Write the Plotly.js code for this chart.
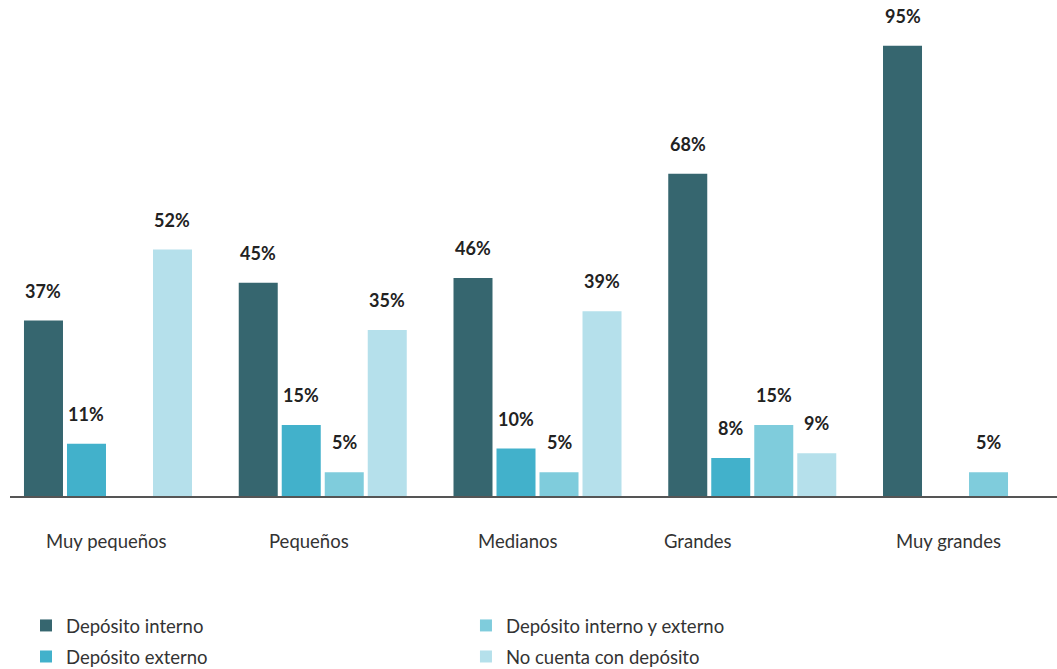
<!DOCTYPE html>
<html>
<head>
<meta charset="utf-8">
<script src="https://cdn.plot.ly/plotly-3.0.1.min.js"></script>
<style>
  html, body { margin: 0; padding: 0; background: #ffffff; }
  #chart { width: 1057px; height: 669px; }
</style>
</head>
<body>
<div id="chart"></div>
<script>
// ---- Data ----
const categories = ["Muy pequeños", "Pequeños", "Medianos", "Grandes", "Muy grandes"];
const seriesNames = ["Depósito interno", "Depósito externo", "Depósito interno y externo", "No cuenta con depósito"];
const depositoInterno = [37, 45, 46, 68, 95];
const depositoExterno = [11, 15, 10, 8, null];
const depositoInternoExterno = [null, 5, 5, 15, 5];
const noCuenta = [52, 35, 39, 9, null];

// ---- Styles ----
const colors = ["#36666f", "#42b1cb", "#7fccdc", "#b5e0eb"];
const barOffsetsPx = [-64.5, -21.5, 21.5, 64.5];      // centre of each bar within its group
const catLabelShiftPx = [-1, -13.5, -20, -54, -18.5]; // horizontal placement of category labels
const legendOf = ["legend", "legend", "legend2", "legend2"];
const FONT = "Lato, 'Open Sans', sans-serif";

const allSeries = [depositoInterno, depositoExterno, depositoInternoExterno, noCuenta];

const traces = allSeries.map((vals, i) => ({
  type: "bar",
  name: seriesNames[i],
  x: categories,
  y: vals,
  marker: { color: colors[i], line: { width: 0 } },
  legend: legendOf[i],
  legendgroup: "g" + i,
  hoverinfo: "x+y+name"
}));

const annotations = [];
allSeries.forEach((vals, i) => {
  vals.forEach((v, j) => {
    if (v === null || v === undefined) return;
    annotations.push({
      x: categories[j], y: v, xref: "x", yref: "y",
      text: v + "%", showarrow: false,
      xshift: barOffsetsPx[i], yshift: 30,
      xanchor: "center", yanchor: "middle",
      font: { family: FONT, size: 18, color: "#222222", weight: "bold" }
    });
  });
});
categories.forEach((c, j) => {
  annotations.push({
    x: c, y: 0, xref: "x", yref: "paper",
    text: c, showarrow: false,
    xshift: catLabelShiftPx[j], yshift: -45,
    xanchor: "center", yanchor: "middle",
    font: { family: FONT, size: 18.5, color: "#333333" }
  });
});

const layout = {
  width: 1057, height: 669,
  margin: { l: 10, r: 0, t: 22, b: 173, pad: 0, autoexpand: false },
  paper_bgcolor: "#ffffff", plot_bgcolor: "#ffffff",
  font: { family: FONT, size: 18, color: "#333333" },
  barmode: "group",
  bargap: 0.199,
  bargroupgap: 0.093,
  showlegend: true,
  xaxis: {
    type: "category",
    range: [-0.4563, 4.419],
    showticklabels: false,
    ticks: "",
    showgrid: false,
    zeroline: false,
    showline: true,
    linecolor: "#555555",
    linewidth: 1.5,
    layer: "below traces",
    automargin: false,
    fixedrange: true
  },
  yaxis: {
    range: [0, 100],
    visible: false,
    showgrid: false,
    zeroline: false,
    automargin: false,
    fixedrange: true
  },
  legend: {
    x: 0.0153, y: -0.234, xanchor: "left", yanchor: "top",
    orientation: "v", tracegroupgap: 4,
    font: { family: FONT, size: 18.5, color: "#333333" },
    bgcolor: "rgba(0,0,0,0)", itemclick: false, itemdoubleclick: false
  },
  legend2: {
    x: 0.4355, y: -0.234, xanchor: "left", yanchor: "top",
    orientation: "v", tracegroupgap: 4,
    font: { family: FONT, size: 18.5, color: "#333333" },
    bgcolor: "rgba(0,0,0,0)", itemclick: false, itemdoubleclick: false
  },
  annotations: annotations
};

Plotly.newPlot("chart", traces, layout, { displayModeBar: false, staticPlot: true });
</script>
</body>
</html>
